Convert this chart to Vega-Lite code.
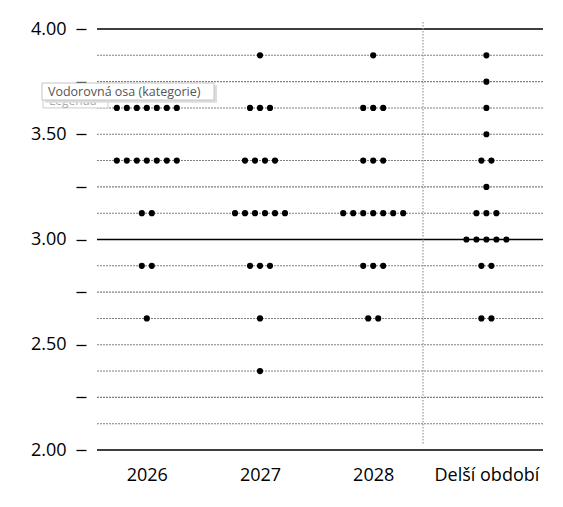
{
  "$schema": "https://vega.github.io/schema/vega-lite/v6.json",
  "width": 446,
  "height": 421,
  "autosize": {"type": "none"},
  "padding": {"left": 97, "top": 29, "right": 20, "bottom": 57},
  "background": "white",
  "config": {"view": {"stroke": null}, "font": "Open Sans"},
  "datasets": {
    "dots": [
      {"period": "2026", "rate": 3.625}, {"period": "2026", "rate": 3.625}, {"period": "2026", "rate": 3.625},
      {"period": "2026", "rate": 3.625}, {"period": "2026", "rate": 3.625}, {"period": "2026", "rate": 3.625},
      {"period": "2026", "rate": 3.625},
      {"period": "2026", "rate": 3.375}, {"period": "2026", "rate": 3.375}, {"period": "2026", "rate": 3.375},
      {"period": "2026", "rate": 3.375}, {"period": "2026", "rate": 3.375}, {"period": "2026", "rate": 3.375},
      {"period": "2026", "rate": 3.375},
      {"period": "2026", "rate": 3.125}, {"period": "2026", "rate": 3.125},
      {"period": "2026", "rate": 2.875}, {"period": "2026", "rate": 2.875},
      {"period": "2026", "rate": 2.625},
      {"period": "2027", "rate": 3.875},
      {"period": "2027", "rate": 3.625}, {"period": "2027", "rate": 3.625}, {"period": "2027", "rate": 3.625},
      {"period": "2027", "rate": 3.375}, {"period": "2027", "rate": 3.375}, {"period": "2027", "rate": 3.375},
      {"period": "2027", "rate": 3.375},
      {"period": "2027", "rate": 3.125}, {"period": "2027", "rate": 3.125}, {"period": "2027", "rate": 3.125},
      {"period": "2027", "rate": 3.125}, {"period": "2027", "rate": 3.125}, {"period": "2027", "rate": 3.125},
      {"period": "2027", "rate": 2.875}, {"period": "2027", "rate": 2.875}, {"period": "2027", "rate": 2.875},
      {"period": "2027", "rate": 2.625},
      {"period": "2027", "rate": 2.375},
      {"period": "2028", "rate": 3.875},
      {"period": "2028", "rate": 3.625}, {"period": "2028", "rate": 3.625}, {"period": "2028", "rate": 3.625},
      {"period": "2028", "rate": 3.375}, {"period": "2028", "rate": 3.375}, {"period": "2028", "rate": 3.375},
      {"period": "2028", "rate": 3.125}, {"period": "2028", "rate": 3.125}, {"period": "2028", "rate": 3.125},
      {"period": "2028", "rate": 3.125}, {"period": "2028", "rate": 3.125}, {"period": "2028", "rate": 3.125},
      {"period": "2028", "rate": 3.125},
      {"period": "2028", "rate": 2.875}, {"period": "2028", "rate": 2.875}, {"period": "2028", "rate": 2.875},
      {"period": "2028", "rate": 2.625}, {"period": "2028", "rate": 2.625},
      {"period": "Delší období", "rate": 3.875},
      {"period": "Delší období", "rate": 3.75},
      {"period": "Delší období", "rate": 3.625},
      {"period": "Delší období", "rate": 3.5},
      {"period": "Delší období", "rate": 3.375}, {"period": "Delší období", "rate": 3.375},
      {"period": "Delší období", "rate": 3.25},
      {"period": "Delší období", "rate": 3.125}, {"period": "Delší období", "rate": 3.125},
      {"period": "Delší období", "rate": 3.125},
      {"period": "Delší období", "rate": 3.0}, {"period": "Delší období", "rate": 3.0},
      {"period": "Delší období", "rate": 3.0}, {"period": "Delší období", "rate": 3.0},
      {"period": "Delší období", "rate": 3.0},
      {"period": "Delší období", "rate": 2.875}, {"period": "Delší období", "rate": 2.875},
      {"period": "Delší období", "rate": 2.625}, {"period": "Delší období", "rate": 2.625}
    ],
    "grid": [
      {"rate": 2.0}, {"rate": 2.125}, {"rate": 2.25}, {"rate": 2.375}, {"rate": 2.5},
      {"rate": 2.625}, {"rate": 2.75}, {"rate": 2.875}, {"rate": 3.0}, {"rate": 3.125},
      {"rate": 3.25}, {"rate": 3.375}, {"rate": 3.5}, {"rate": 3.625}, {"rate": 3.75},
      {"rate": 3.875}, {"rate": 4.0}
    ]
  },
  "layer": [
    {
      "data": {"name": "grid"},
      "mark": {"type": "rule"},
      "encoding": {
        "y": {
          "field": "rate",
          "type": "quantitative",
          "title": null,
          "scale": {"domain": [2, 4], "nice": false, "zero": false},
          "axis": {
            "values": [2, 2.25, 2.5, 2.75, 3, 3.25, 3.5, 3.75, 4],
            "labelExpr": "datum.value % 0.5 == 0 ? format(datum.value, '.2f') : ''",
            "grid": false,
            "domain": false,
            "ticks": true,
            "tickColor": "black",
            "tickSize": 10,
            "tickWidth": 1.3,
            "offset": 11,
            "labelFontSize": 18,
            "labelColor": "black",
            "labelPadding": 10
          }
        },
        "color": {
          "condition": {"test": "datum.rate % 1 == 0", "value": "black"},
          "value": "#808080"
        },
        "strokeDash": {
          "condition": {"test": "datum.rate % 1 == 0", "value": [1, 0]},
          "value": [2, 1]
        },
        "strokeWidth": {
          "condition": {"test": "datum.rate % 1 == 0", "value": 1.4},
          "value": 1.1
        }
      }
    },
    {
      "data": {"values": [{}]},
      "mark": {"type": "rule", "color": "#999999", "strokeDash": [1.5, 1.5], "strokeWidth": 1.2},
      "encoding": {
        "x": {"datum": 2.44, "type": "quantitative", "title": null},
        "y": {"datum": 4.033, "type": "quantitative", "title": null},
        "y2": {"datum": 2.024}
      }
    },
    {
      "data": {"name": "dots"},
      "transform": [
        {"window": [{"op": "row_number", "as": "r"}], "groupby": ["period", "rate"]},
        {"joinaggregate": [{"op": "count", "as": "n"}], "groupby": ["period", "rate"]},
        {
          "calculate": "indexof(['2026','2027','2028','Delší období'], datum.period) + (datum.r - (datum.n + 1) / 2) * 0.0883",
          "as": "xpos"
        }
      ],
      "mark": {"type": "circle", "color": "black", "opacity": 1, "size": 38},
      "encoding": {
        "x": {
          "field": "xpos",
          "type": "quantitative",
          "title": null,
          "scale": {"domain": [-0.44, 3.5], "nice": false, "zero": false},
          "axis": {
            "values": [0, 1, 2, 3],
            "labelExpr": "['2026', '2027', '2028', 'Delší období'][datum.value]",
            "grid": false,
            "domain": false,
            "ticks": false,
            "labelFontSize": 18,
            "labelColor": "black",
            "labelPadding": 16
          }
        },
        "y": {"field": "rate", "type": "quantitative", "title": null},
        "tooltip": [
          {"field": "period", "type": "nominal", "title": "Období"},
          {"field": "rate", "type": "quantitative", "title": "Sazba", "format": ".3f"}
        ]
      }
    },
    {
      "data": {"values": [{}]},
      "mark": {"type": "rect", "fill": "white", "stroke": "#cccccc", "strokeWidth": 1},
      "encoding": {
        "x": {"datum": -0.917, "type": "quantitative"},
        "x2": {"datum": -0.343},
        "y": {"datum": 3.72, "type": "quantitative"},
        "y2": {"datum": 3.625}
      }
    },
    {
      "data": {"values": [{}]},
      "mark": {"type": "text", "text": "Legenda", "align": "left", "baseline": "middle", "fontSize": 12, "color": "#aaaaaa"},
      "encoding": {
        "x": {"datum": -0.864, "type": "quantitative"},
        "y": {"datum": 3.66, "type": "quantitative"}
      }
    },
    {
      "data": {"values": [{}]},
      "mark": {"type": "rect", "fill": "#dddddd", "stroke": null},
      "encoding": {
        "x": {"datum": -0.9, "type": "quantitative"},
        "x2": {"datum": 0.62},
        "y": {"datum": 3.733, "type": "quantitative"},
        "y2": {"datum": 3.65}
      }
    },
    {
      "data": {"values": [{}]},
      "mark": {"type": "rect", "fill": "white", "stroke": "#c4c4c4", "strokeWidth": 1},
      "encoding": {
        "x": {"datum": -0.926, "type": "quantitative"},
        "x2": {"datum": 0.594},
        "y": {"datum": 3.7435, "type": "quantitative"},
        "y2": {"datum": 3.6627}
      }
    },
    {
      "data": {"values": [{}]},
      "mark": {"type": "text", "text": "Vodorovná osa (kategorie)", "align": "left", "baseline": "middle", "fontSize": 12.5, "color": "#555555"},
      "encoding": {
        "x": {"datum": -0.873, "type": "quantitative"},
        "y": {"datum": 3.703, "type": "quantitative"}
      }
    }
  ]
}
